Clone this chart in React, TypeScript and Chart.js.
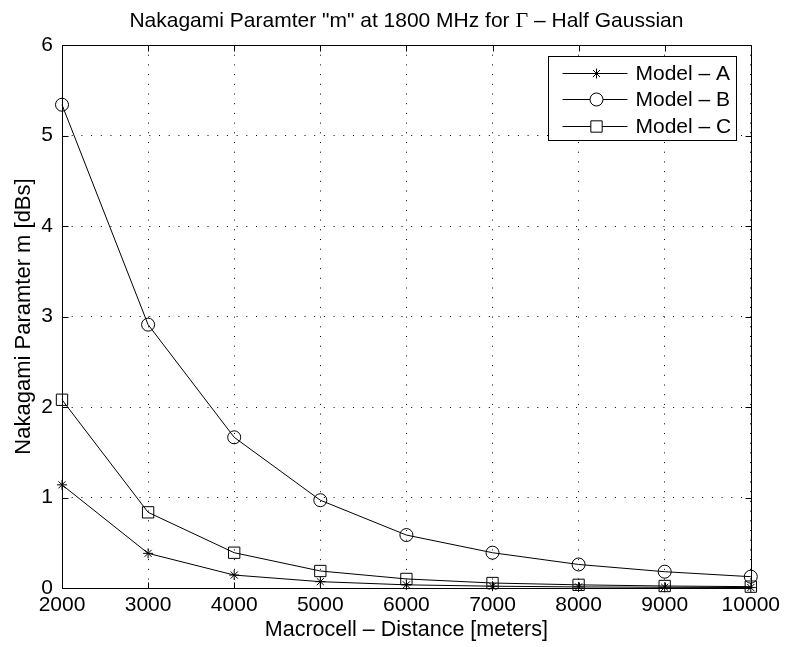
import React, { useEffect, useRef } from "react";
import { Chart, registerables } from "chart.js";
import { drawPoint } from "chart.js/helpers";

Chart.register(...registerables);

const distances = [2000, 3000, 4000, 5000, 6000, 7000, 8000, 9000, 10000];
const modelA = [1.14, 0.383, 0.143, 0.07, 0.035, 0.02, 0.012, 0.008, 0.005];
const modelB = [5.34, 2.91, 1.665, 0.97, 0.585, 0.39, 0.26, 0.18, 0.125];
const modelC = [2.08, 0.836, 0.39, 0.188, 0.1, 0.055, 0.035, 0.022, 0.015];
const seriesLabels = ["Model \u2013 A", "Model \u2013 B", "Model \u2013 C"];
const titleParts = ['Nakagami Paramter "m" at 1800 MHz for ', "\u0393", " \u2013 Half Gaussian"];
const xTitle = "Macrocell \u2013 Distance [meters]";
const yTitle = "Nakagami Paramter m [dBs]";

const FONT = '"Liberation Sans", Arial, Helvetica, sans-serif';
const SERIF = '"Liberation Serif", "Times New Roman", serif';

const styles = [
  { pointStyle: "star", radius: 5 },
  { pointStyle: "circle", radius: 6.5 },
  { pointStyle: "rect", radius: 8 },
];

const framePlugin = {
  id: "frame",
  afterDatasetsDraw(chart: any) {
    const { ctx, chartArea } = chart;
    const xs = chart.scales.x;
    const ys = chart.scales.y;
    const L = Math.round(chartArea.left) + 0.5;
    const R = Math.round(chartArea.right) + 0.5;
    const T = Math.round(chartArea.top) + 0.5;
    const B = Math.round(chartArea.bottom) + 0.5;
    ctx.save();
    ctx.strokeStyle = "#000";
    ctx.lineWidth = 1;
    ctx.setLineDash([]);
    ctx.beginPath();
    ctx.rect(L, T, R - L, B - T);
    const tl = 6;
    xs.ticks.forEach((t: any) => {
      const px = Math.round(xs.getPixelForValue(t.value)) + 0.5;
      ctx.moveTo(px, B);
      ctx.lineTo(px, B - tl);
      ctx.moveTo(px, T);
      ctx.lineTo(px, T + tl);
    });
    ys.ticks.forEach((t: any) => {
      const py = Math.round(ys.getPixelForValue(t.value)) + 0.5;
      ctx.moveTo(L, py);
      ctx.lineTo(L + tl, py);
      ctx.moveTo(R, py);
      ctx.lineTo(R - tl, py);
    });
    ctx.stroke();

    // title, centred over the plot area, with a serif Gamma
    ctx.fillStyle = "#000";
    ctx.textBaseline = "middle";
    ctx.textAlign = "left";
    const fonts = [`21px ${FONT}`, `22px ${SERIF}`, `21px ${FONT}`];
    const widths = titleParts.map((p, i) => {
      ctx.font = fonts[i];
      return ctx.measureText(p).width;
    });
    const total = widths.reduce((a, b) => a + b, 0);
    let tx = (chartArea.left + chartArea.right) / 2 - total / 2;
    titleParts.forEach((p, i) => {
      ctx.font = fonts[i];
      ctx.fillText(p, tx, 21);
      tx += widths[i];
    });

    // legend
    const bw = 188;
    const bh = 84;
    const bx = Math.round(chartArea.right) - 15 - bw + 0.5;
    const by = Math.round(chartArea.top) + 11 + 0.5;
    ctx.fillStyle = "#fff";
    ctx.fillRect(bx, by, bw, bh);
    ctx.strokeRect(bx, by, bw, bh);
    ctx.font = `21px ${FONT}`;
    ctx.textBaseline = "middle";
    ctx.textAlign = "left";
    chart.data.datasets.forEach((ds: any, i: number) => {
      const ry = Math.round(by + 16.5 + i * 26.3) + 0.5;
      ctx.beginPath();
      ctx.moveTo(bx + 14, ry);
      ctx.lineTo(bx + 79, ry);
      ctx.stroke();
      ctx.fillStyle = "#fff";
      drawPoint(
        ctx,
        { pointStyle: styles[i].pointStyle, radius: styles[i].radius, rotation: 0, borderWidth: 1 } as any,
        bx + 48,
        ry
      );
      ctx.fillStyle = "#000";
      ctx.fillText(ds.label, bx + 87, ry + 1);
    });
    ctx.restore();
  },
};

export default function App() {
  const ref = useRef<HTMLCanvasElement>(null);
  useEffect(() => {
    if (!ref.current) return;
    const mk = (label: string, data: number[], i: number) => ({
      label,
      data: distances.map((d, k) => ({ x: d, y: data[k] })),
      borderColor: "#000",
      borderWidth: 1,
      backgroundColor: "rgba(0,0,0,0)",
      pointBackgroundColor: "rgba(0,0,0,0)",
      pointBorderColor: "#000",
      pointBorderWidth: 1,
      pointStyle: styles[i].pointStyle,
      pointRadius: styles[i].radius,
      tension: 0,
      fill: false,
      clip: false as any,
    });
    const chart = new Chart(ref.current, {
      type: "line",
      data: {
        datasets: [mk(seriesLabels[0], modelA, 0), mk(seriesLabels[1], modelB, 1), mk(seriesLabels[2], modelC, 2)],
      },
      options: {
        animation: false,
        responsive: false,
        devicePixelRatio: 1,
        layout: { padding: { left: 0, right: 33, top: 45, bottom: 0 } },
        plugins: {
          legend: { display: false },
          tooltip: { enabled: false },
          title: { display: false },
        },
        scales: {
          x: {
            type: "linear",
            min: 2000,
            max: 10000,
            afterFit: (s: any) => {
              s.height = 59;
            },
            ticks: {
              stepSize: 1000,
              color: "#000",
              font: { family: FONT, size: 21 },
              padding: 5,
              maxRotation: 0,
              autoSkip: false,
              callback: (v: any) => String(v),
            },
            grid: { color: "#000", lineWidth: 1, drawTicks: false },
            border: { display: false, dash: [1, 8.7] },
            title: {
              display: true,
              text: xTitle,
              color: "#000",
              font: { family: FONT, size: 21.5 },
              padding: { top: 0, bottom: 4 },
            },
          },
          y: {
            type: "linear",
            min: 0,
            max: 6,
            afterFit: (s: any) => {
              s.width = 62;
            },
            ticks: {
              stepSize: 1,
              color: "#000",
              font: { family: FONT, size: 21 },
              padding: 9,
            },
            grid: { color: "#000", lineWidth: 1, drawTicks: false },
            border: { display: false, dash: [1, 8.7] },
            title: {
              display: true,
              text: yTitle,
              color: "#000",
              font: { family: FONT, size: 22 },
              padding: { top: 11, bottom: 0 },
            },
          },
        },
      },
      plugins: [framePlugin],
    });
    return () => chart.destroy();
  }, []);
  return (
    <div style={{ position: "absolute", left: 0, top: 0, width: 785, height: 647, background: "#fff" }}>
      <canvas ref={ref} width={785} height={647} />
    </div>
  );
}
